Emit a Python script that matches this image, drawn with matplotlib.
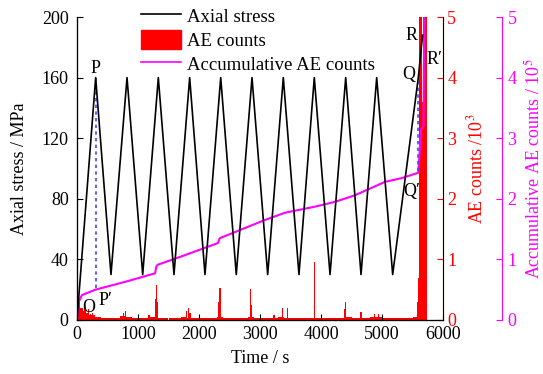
import numpy as np
import matplotlib
matplotlib.use("Agg")
import matplotlib.pyplot as plt
from matplotlib.lines import Line2D
from matplotlib.patches import Patch

plt.rcParams['font.family'] = ['Liberation Serif', 'DejaVu Serif']
plt.rcParams['mathtext.fontset'] = 'stix'
plt.rcParams['font.size'] = 13

# axial stress (MPa) vs time (s): loading / unloading cycles
stress_t = [0, 306, 557, 820, 1077, 1333, 1590, 1847, 2098, 2356, 2611, 2869,
            3126, 3382, 3639, 3890, 4148, 4405, 4656, 4913, 5175, 5595, 5665]
stress_v = [0, 160, 30, 160, 30, 160, 30, 160, 30, 160, 30, 160,
            30, 160, 30, 160, 30, 160, 30, 160, 30, 160, 188]

# accumulative AE counts (x10^5)
cum_t = [0, 20, 80, 300, 790, 1280, 1300, 1320, 1770, 2310, 2340, 3080, 3410,
         3900, 4230, 4560, 5050, 5320, 5595, 5640, 5680, 5690, 5700]
cum_v = [0, 0.28, 0.41, 0.50, 0.63, 0.77, 0.88, 0.91, 1.07, 1.27, 1.35, 1.65, 1.77,
         1.87, 1.95, 2.06, 2.28, 2.34, 2.43, 3.14, 3.20, 4.6, 5.6]

# AE counts (x10^3): background level in 100 s bins
base_t = np.arange(50, 5600, 100)
base_v = [0.20, 0.12, 0.08, 0.05, 0.04, 0.03, 0.03, 0.06, 0.05, 0.03,
          0.03, 0.03, 0.05, 0.04, 0.03, 0.03, 0.03, 0.05, 0.04, 0.03,
          0.03, 0.03, 0.04, 0.05, 0.03, 0.03, 0.03, 0.04, 0.05, 0.03,
          0.03, 0.03, 0.03, 0.05, 0.04, 0.03, 0.03, 0.03, 0.04, 0.04,
          0.03, 0.03, 0.03, 0.04, 0.05, 0.03, 0.03, 0.04, 0.05, 0.05,
          0.04, 0.03, 0.03, 0.03, 0.04, 0.05]

# AE counts (x10^3): bursts
spike_t = [10, 40, 70, 100, 130, 160, 190, 220, 250, 760, 790, 1180, 1290, 1306,
           1320, 1800, 1825, 1850, 2330, 2344, 2840, 2860, 3230, 3370, 3448, 3890,
           4395, 4405, 4656, 4880, 4940, 5580, 5595, 5620, 5640, 5660, 5690, 5710, 5725]
spike_v = [0.42, 0.30, 0.20, 0.15, 0.22, 0.12, 0.18, 0.10, 0.12, 0.12, 0.15, 0.08,
           0.35, 0.58, 0.30, 0.15, 0.20, 0.12, 0.30, 0.53, 0.51, 0.25, 0.08, 0.20,
           0.20, 0.96, 0.18, 0.30, 0.14, 0.10, 0.10, 0.30, 0.70, 6, 6, 3.6, 6, 6, 6]

red = '#ff0000'
mag = '#ff00ff'

fig = plt.figure(figsize=(5.43, 3.74), dpi=100)
ax = fig.add_axes([77/543, 1-320/374, 366/543, 303/374])
ax2 = ax.twinx()
ax3 = ax.twinx()

# AE counts bars
ax2.bar(base_t, base_v, width=100, color=red, linewidth=0)
ax2.bar(spike_t, spike_v, width=22, color=red, linewidth=0)
ax2.set_ylim(0, 5)
ax2.set_yticks([0, 1, 2, 3, 4, 5])
ax2.tick_params(axis='y', direction='in', colors=red, length=4, pad=3, labelsize=13)
ax2.spines['right'].set_color('#ff6666')
ax2.set_ylabel('AE counts /10$^3$', color=red)
ax2.yaxis.set_label_coords(1.063, 0.5)

# accumulative AE counts
ax3.spines['right'].set_position(('axes', 1.161))
ax3.plot(cum_t, cum_v, color=mag, lw=1.5)
ax3.set_ylim(0, 5)
ax3.set_yticks([0, 1, 2, 3, 4, 5])
ax3.tick_params(axis='y', direction='in', colors=mag, length=4, pad=4, labelsize=13)
ax3.spines['right'].set_color(mag)
ax3.set_ylabel('Accumulative AE counts / 10$^5$', color=mag)
ax3.yaxis.set_label_coords(1.22, 0.5)

# stress on top
ax.plot(stress_t, stress_v, color='black', lw=1.2, zorder=5)
ax.plot([306, 306], [160, 20], color='#4444ff', lw=1.2, ls=(0, (2, 2)), zorder=4)
ax.plot([5595, 5595], [158, 97], color='#4444ff', lw=1.2, ls=(0, (2, 2)), zorder=4)
ax.set_xlim(0, 6000)
ax.set_ylim(0, 200)
ax.set_xticks(range(0, 6001, 1000))
ax.set_yticks(range(0, 201, 40))
ax.tick_params(direction='in', length=4, labelsize=13)
ax.tick_params(axis='y', pad=6)
ax.tick_params(axis='x', pad=4)
ax.set_xlabel('Time / s')
ax.set_ylabel('Axial stress / MPa')
ax.yaxis.set_label_coords(-0.133, 0.5)
ax.xaxis.set_label_coords(0.5, -0.1)
for a in (ax, ax2, ax3):
    a.spines['top'].set_visible(False)
ax.set_zorder(ax3.get_zorder() + 2)
ax3.set_zorder(ax2.get_zorder() + 1)
ax.patch.set_visible(False)
ax3.patch.set_visible(False)

# point labels
ax.text(300, 166, 'P', ha='center', va='center')
ax.text(195, 8, 'O', ha='center', va='center')
ax.text(470, 13, 'P\u2032', ha='center', va='center')
ax.text(5440, 162, 'Q', ha='center', va='center')
ax.text(5480, 188, 'R', ha='center', va='center')
ax.text(5860, 172, 'R\u2032', ha='center', va='center')
ax.text(5480, 85, 'Q\u2032', ha='center', va='center')

handles = [Line2D([], [], color='black', lw=1.2),
           Patch(color=red),
           Line2D([], [], color=mag, lw=1.2)]
fig.legend(handles, ['Axial stress', 'AE counts', 'Accumulative AE counts'],
           loc='upper left', bbox_to_anchor=(141/543, 1-6/374), frameon=False,
           borderpad=0, borderaxespad=0, handlelength=2.13, handleheight=1.17,
           labelspacing=0.24, handletextpad=0.3, fontsize=13.5)

fig.savefig('out.png', dpi=100)
